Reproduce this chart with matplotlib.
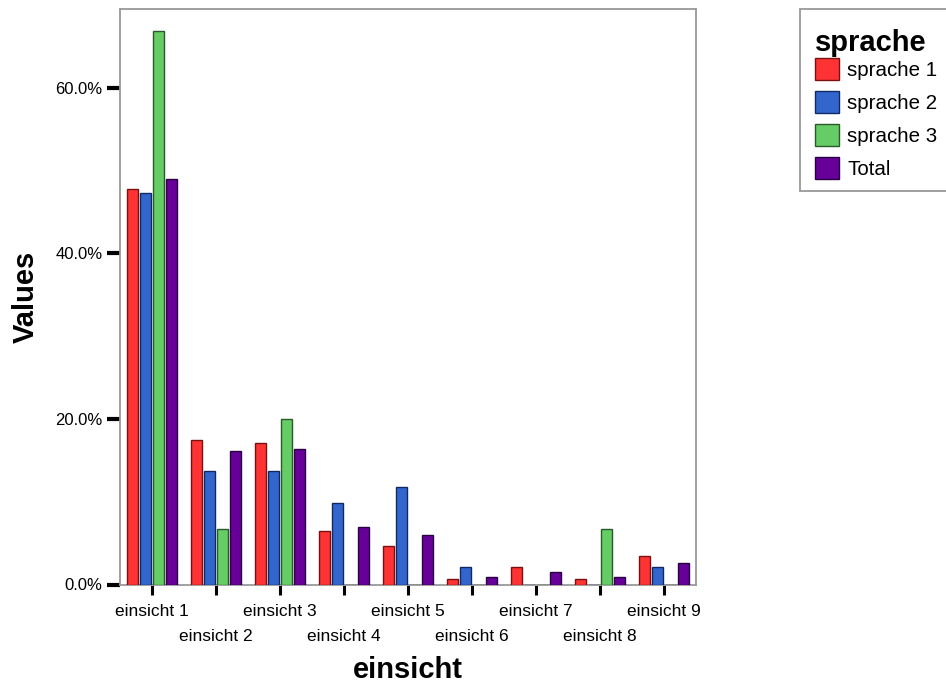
import matplotlib.pyplot as plt
import numpy as np
from matplotlib.patches import Patch, Rectangle

plt.rcParams['font.family'] = ['Liberation Sans', 'DejaVu Sans']

categories = ['einsicht 1', 'einsicht 2', 'einsicht 3', 'einsicht 4', 'einsicht 5',
              'einsicht 6', 'einsicht 7', 'einsicht 8', 'einsicht 9']
series_names = ['sprache 1', 'sprache 2', 'sprache 3', 'Total']
sprache_1 = [47.8, 17.5, 17.1, 6.5, 4.6, 0.7, 2.1, 0.7, 3.4]
sprache_2 = [47.3, 13.7, 13.7, 9.8, 11.8, 2.1, 0.0, 0.0, 2.1]
sprache_3 = [66.9, 6.7, 20.0, 0.0, 0.0, 0.0, 0.0, 6.7, 0.0]
total = [49.0, 16.1, 16.4, 7.0, 6.0, 0.9, 1.45, 0.9, 2.6]
y_ticks = [0, 20, 40, 60]

colors = ['#ff3333', '#3366cc', '#66cc66', '#660099']
edges = ['#7a1010', '#102a66', '#2a5a2a', '#2a0044']

W, H = 946, 683
fig = plt.figure(figsize=(W / 100, H / 100), dpi=100)
ax = fig.add_axes([120 / W, 1 - 584.5 / H, 576 / W, 575.5 / H])

x = np.arange(len(categories))
slot = 0.203
width = 0.17
for i, vals in enumerate([sprache_1, sprache_2, sprache_3, total]):
    ax.bar(x + (i - 1.5) * slot, vals, width, color=colors[i],
           edgecolor=edges[i], linewidth=1.0, zorder=3)

ax.set_xlim(-0.5, len(categories) - 0.5)
ax.set_ylim(0, 69.5)
ax.set_yticks(y_ticks)
ax.set_yticklabels(['{:.1f}%'.format(v) for v in y_ticks], fontsize=12)

# staggered category labels: odd ones on the first row, even ones below
ax.set_xticks(x[::2])
ax.set_xticklabels(categories[::2], fontsize=12.5)
ax.set_xticks(x[1::2], minor=True)
ax.set_xticklabels(categories[1::2], minor=True, fontsize=12.5)

ax.tick_params(axis='y', direction='out', length=9.5, width=3, color='black', pad=3)
ax.tick_params(axis='x', which='major', direction='out', length=7, width=2.2,
               color='black', pad=7)
ax.tick_params(axis='x', which='minor', direction='out', length=7, width=2.2,
               color='black', pad=25)

for s in ax.spines.values():
    s.set_color('#999999')
    s.set_linewidth(1.3)

ax.set_ylabel('Values', fontsize=21, fontweight='bold', labelpad=11)
ax.set_xlabel('einsicht', fontsize=21, fontweight='bold', labelpad=9)

# legend frame, runs off the right edge like the reference
fig.add_artist(Rectangle((800 / W, 1 - 190.5 / H), 160 / W, 181.5 / H,
                         transform=fig.transFigure, facecolor='white',
                         edgecolor='#999999', linewidth=1.3))
fig.text(815 / W, 1 - 51 / H, 'sprache', fontsize=21, fontweight='bold',
         ha='left', va='baseline')

handles = [Patch(facecolor=colors[i], edgecolor=edges[i], linewidth=1.0) for i in range(4)]
leg = fig.legend(handles, series_names, loc='upper left',
                 bbox_to_anchor=(815 / W, 1 - 57.5 / H), fontsize=14.8,
                 frameon=False,
                 handlelength=1.17, handleheight=1.3, handletextpad=0.39,
                 labelspacing=0.52, borderpad=0, borderaxespad=0)

fig.savefig('out.png', dpi=100)
